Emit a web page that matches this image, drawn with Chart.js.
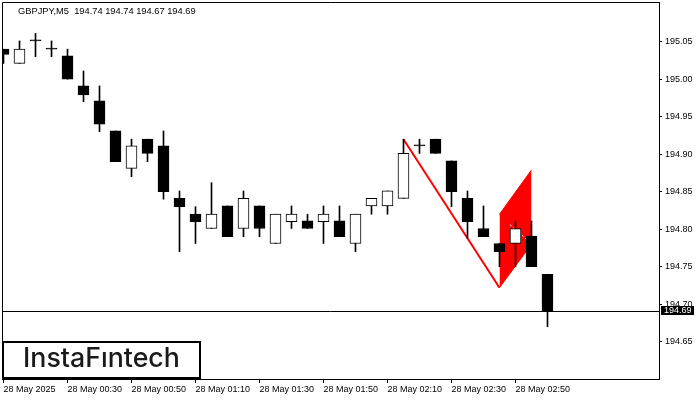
<!DOCTYPE html>
<html>
<head>
<meta charset="utf-8">
<script src="https://cdn.jsdelivr.net/npm/chart.js@4.4.1/dist/chart.umd.min.js"></script>
<style>
    html, body { margin: 0; padding: 0; background: #fff; }
    canvas { display: block; }
</style>
</head>
<body>
<canvas id="myChart" width="700" height="400"></canvas>
<script>
// GBPJPY M5 bars, 00:10 .. 03:00
var Open  = [195.040, 195.021, 195.051, 195.040, 195.031, 194.991, 194.971, 194.931, 194.881, 194.920,
             194.911, 194.841, 194.820, 194.801, 194.831, 194.801, 194.831, 194.781, 194.810, 194.811,
             194.810, 194.811, 194.781, 194.831, 194.831, 194.841, 194.911, 194.920, 194.891, 194.841,
             194.801, 194.781, 194.781, 194.791, 194.740];
var High  = [195.040, 195.051, 195.061, 195.051, 195.040, 195.011, 194.991, 194.931, 194.920, 194.920,
             194.931, 194.851, 194.830, 194.862, 194.831, 194.851, 194.831, 194.820, 194.831, 194.820,
             194.831, 194.831, 194.820, 194.841, 194.851, 194.920, 194.920, 194.920, 194.891, 194.851,
             194.831, 194.781, 194.811, 194.811, 194.740];
var Low   = [195.021, 195.021, 195.030, 195.030, 195.000, 194.970, 194.930, 194.890, 194.870, 194.890,
             194.840, 194.770, 194.781, 194.801, 194.790, 194.790, 194.790, 194.781, 194.801, 194.801,
             194.781, 194.790, 194.770, 194.820, 194.820, 194.841, 194.901, 194.901, 194.830, 194.788,
             194.790, 194.750, 194.750, 194.750, 194.670];
var Close = [195.033, 195.040, 195.051, 195.040, 195.000, 194.979, 194.940, 194.890, 194.911, 194.901,
             194.850, 194.830, 194.810, 194.820, 194.790, 194.841, 194.801, 194.820, 194.820, 194.801,
             194.820, 194.790, 194.820, 194.841, 194.851, 194.901, 194.911, 194.901, 194.850, 194.810,
             194.790, 194.770, 194.801, 194.750, 194.690];

var TimeLabels = ['28 May 2025', '28 May 00:30', '28 May 00:50', '28 May 01:10', '28 May 01:30',
                  '28 May 01:50', '28 May 02:10', '28 May 02:30', '28 May 02:50'];
var TimeTickIdx = [0, 4, 8, 12, 16, 20, 24, 28, 32];
var PriceTicks = [194.65, 194.70, 194.75, 194.80, 194.85, 194.90, 194.95, 195.00, 195.05];

// bearish flag: pole and the two flag edges (bar index, price)
var PoleX = [25, 31];
var PoleY = [194.920, 194.722];
var FlagX = [31, 33];
var FlagTop = [194.820, 194.879];
var FlagBottom = [194.722, 194.780];
var FlagMidX = [31.66, 32.66];
var FlagMidY = [194.806, 194.787];

var Symbol = 'GBPJPY,M5';
var LastPrice = 194.69;

var axisFont = { family: 'Liberation Sans', size: 9 };

function pts(xs, ys) {
    var out = [];
    for (var i = 0; i < xs.length; i++) out.push({ x: xs[i], y: ys[i] });
    return out;
}

var wicks = [];
var bodies = [];
var bodyColors = [];
for (var i = 0; i < Open.length; i++) {
    wicks.push({ x: i, y: [Low[i], High[i]] });
    bodies.push({ x: i, y: [Math.min(Open[i], Close[i]), Math.max(Open[i], Close[i])] });
    bodyColors.push(Close[i] > Open[i] ? '#ffffff' : '#000000');
}

function fitText(ctx, text, family, weight, width) {
    ctx.font = weight + ' 100px ' + family;
    var w = ctx.measureText(text).width;
    return 100 * width / w;
}

var overlay = {
    id: 'overlay',
    afterDatasetsDraw: function (chart) {
        var ctx = chart.ctx;
        var a = chart.chartArea;
        var py = Math.floor(chart.scales.y.getPixelForValue(LastPrice)) + 0.5;
        ctx.save();
        ctx.strokeStyle = '#000';
        ctx.lineWidth = 1;
        ctx.beginPath();
        ctx.moveTo(a.left, py);
        ctx.lineTo(a.right, py);
        // frame top and left
        ctx.moveTo(a.left + 0.5, a.bottom);
        ctx.lineTo(a.left + 0.5, a.top + 0.5);
        ctx.lineTo(a.right, a.top + 0.5);
        ctx.stroke();
        ctx.restore();
    },
    afterDraw: function (chart) {
        var ctx = chart.ctx;
        var a = chart.chartArea;
        ctx.save();

        // header text
        var hdr = Symbol + '  ' + [Open[34], High[34], Low[34], Close[34]].map(function (v) { return v.toFixed(2); }).join(' ');
        var fs = fitText(ctx, hdr, 'Liberation Sans', 'normal', 178);
        ctx.font = fs + 'px Liberation Sans';
        ctx.fillStyle = '#000';
        ctx.textBaseline = 'alphabetic';
        ctx.textAlign = 'left';
        ctx.fillText(hdr, 18, 14);

        // last price box
        var py = Math.floor(chart.scales.y.getPixelForValue(LastPrice));
        ctx.fillStyle = '#000';
        ctx.fillRect(a.right + 2, py - 5, 33, 9);
        ctx.fillStyle = '#fff';
        ctx.font = '9px Liberation Sans';
        ctx.textBaseline = 'middle';
        ctx.fillText(LastPrice.toFixed(2), a.right + 5, py);

        // logo
        ctx.fillStyle = '#fff';
        ctx.fillRect(2, 341, 199, 38);
        ctx.strokeStyle = '#000';
        ctx.lineWidth = 2;
        ctx.strokeRect(3, 342, 197, 36);
        var logo = 'Insta\u0046\u0131ntech';
        var ls = fitText(ctx, logo, 'Inter', '500', 157);
        ctx.font = '500 ' + ls + 'px Inter';
        ctx.fillStyle = '#1a1a1a';
        ctx.textBaseline = 'alphabetic';
        ctx.fillText(logo, 23, 367);
        ctx.restore();
    }
};

function initchart() {
    const config = {
        type: 'bar',
        data: {
            datasets: [
                {
                    type: 'line',
                    data: pts(FlagX, FlagTop),
                    borderColor: '#ff0000',
                    borderWidth: 1,
                    pointRadius: 0,
                    fill: false,
                    order: 5
                },
                {
                    type: 'line',
                    data: pts(FlagX, FlagBottom),
                    borderColor: '#ff0000',
                    backgroundColor: '#ff0000',
                    borderWidth: 1,
                    pointRadius: 0,
                    fill: '-1',
                    order: 4
                },
                {
                    type: 'line',
                    data: pts(FlagMidX, FlagMidY),
                    borderColor: '#ffffff',
                    borderWidth: 1,
                    borderDash: [2, 2],
                    pointRadius: 0,
                    order: 3
                },
                {
                    type: 'line',
                    data: pts(PoleX, PoleY),
                    borderColor: '#ff0000',
                    borderWidth: 2,
                    pointRadius: 0,
                    order: 2
                },
                {
                    data: wicks,
                    backgroundColor: '#000',
                    barThickness: 1,
                    grouped: false,
                    order: 1
                },
                {
                    data: bodies,
                    backgroundColor: bodyColors,
                    borderColor: '#000',
                    borderWidth: 1,
                    borderSkipped: false,
                    barThickness: 11,
                    minBarLength: 1,
                    grouped: false,
                    order: 0
                }
            ]
        },
        options: {
            responsive: false,
            animation: false,
            devicePixelRatio: 1,
            layout: { padding: { left: 2, top: 2, right: 0, bottom: 0 } },
            plugins: {
                legend: { display: false },
                tooltip: { enabled: false }
            },
            scales: {
                x: {
                    type: 'linear',
                    offset: false,
                    min: -0.094,
                    max: 40.97,
                    afterBuildTicks: function (s) {
                        s.ticks = TimeTickIdx.map(function (v) { return { value: v }; });
                    },
                    afterFit: function (s) {
                        s.height = 21;
                        s.paddingLeft = 0;
                        s.paddingRight = 0;
                    },
                    grid: { drawOnChartArea: false, tickLength: 4, color: '#000', offset: false },
                    border: { color: '#000' },
                    ticks: {
                        align: 'start',
                        autoSkip: false,
                        maxRotation: 0,
                        padding: 1,
                        color: '#000',
                        font: axisFont,
                        callback: function (v) {
                            var j = TimeTickIdx.indexOf(v);
                            return j < 0 ? '' : TimeLabels[j];
                        }
                    }
                },
                y: {
                    position: 'right',
                    min: 194.6003,
                    max: 195.1029,
                    afterBuildTicks: function (s) {
                        s.ticks = PriceTicks.map(function (v) { return { value: v }; });
                    },
                    afterFit: function (s) {
                        s.width = 41;
                        s.paddingTop = 0;
                        s.paddingBottom = 0;
                    },
                    grid: { drawOnChartArea: false, tickLength: 3, color: '#000' },
                    border: { color: '#000' },
                    ticks: {
                        padding: 3,
                        color: '#000',
                        font: axisFont,
                        callback: function (v) { return v.toFixed(2); }
                    }
                }
            }
        },
        plugins: [overlay]
    };

    const myChart = new Chart(document.getElementById('myChart'), config);
}

initchart();
</script>
</body>
</html>
